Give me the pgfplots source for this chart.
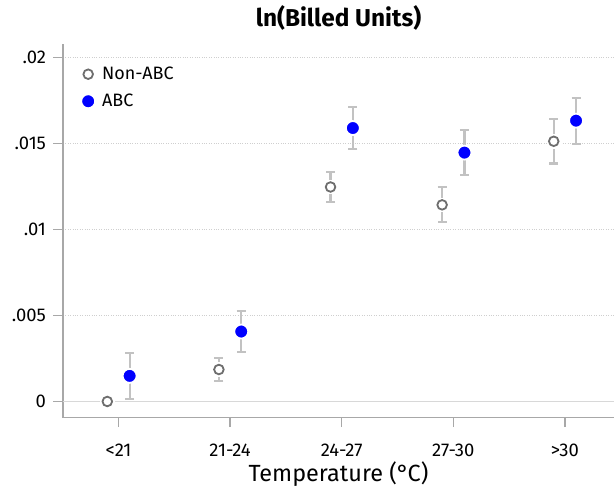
\documentclass[border=0pt]{standalone}
\usepackage{fontspec}
\setmainfont{Fira Sans}
\usepackage{pgfplots}
\pgfplotsset{compat=1.18}
\definecolor{nonabc}{HTML}{6E6E6E}
\definecolor{ebar}{HTML}{C2C2C2}
\definecolor{axgray}{HTML}{A8A8A8}
\definecolor{gridc}{HTML}{CFCFCF}
\pgfplotstableread{
x y e
-0.1 0.00000 0.00001
0.9 0.00186 0.00067
1.9 0.01248 0.00088
2.9 0.01144 0.00102
3.9 0.01514 0.00129
}\nonabc
\pgfplotstableread{
x y e
0.1 0.00149 0.00134
1.1 0.00407 0.00118
2.1 0.01591 0.00122
3.1 0.01448 0.00132
4.1 0.01634 0.00134
}\abc
\begin{document}
\begin{tikzpicture}
\begin{axis}[
  scale only axis,
  width=551bp, height=373.7bp,
  xmin=-0.497, xmax=4.44,
  ymin=-0.000944, ymax=0.02080,
  axis lines*=left,
  axis line style={axgray, line width=1.3bp},
  every tick/.style={axgray, line width=1.3bp},
  tick align=outside,
  major tick length=9.5bp,
  xtick={0,1,2,3,4},
  xticklabels={<21,21-24,24-27,27-30,>30},
  ytick={0,0.005,0.01,0.015,0.02},
  yticklabels={0,.005,.01,.015,.02},
  scaled y ticks=false,
  ymajorgrids,
  grid style={gridc, dotted, line width=1bp},
  tick label style={font=\fontsize{18.5}{20}\selectfont},
  xticklabel style={anchor=center, yshift=-23bp},
  yticklabel style={anchor=east, xshift=-4bp},
  xlabel={Temperature (°\kern-1.5pt C)},
  xlabel style={at={(axis description cs:0.5,0)}, anchor=center, yshift=-56bp, font=\fontsize{23.5}{26}\selectfont},
  legend style={at={(axis description cs:0,1)}, anchor=north west, xshift=15bp, yshift=-19bp, draw=none, fill=none, font=\fontsize{18}{20}\selectfont, row sep=9bp, column sep=5bp},
  legend cell align=left,
  clip=false,
]
\coordinate (ll) at (rel axis cs:0,0);
\coordinate (ur) at (rel axis cs:1,1);
\coordinate (tt) at (rel axis cs:0.5,1);
\draw[gridc!80, line width=1.2bp] (axis cs:-0.497,0) -- (axis cs:4.44,0);
\addplot[draw=none, mark=none, forget plot,
  error bars/.cd, y dir=both, y explicit, error mark=-,
  error bar style={draw=ebar, line width=2.2bp},
  error mark options={rotate=90, draw=ebar, line width=2.2bp, mark size=4.5bp}]
  table[x=x, y=y, y error=e] {\nonabc};
\addplot[draw=none, mark=none, forget plot,
  error bars/.cd, y dir=both, y explicit, error mark=-,
  error bar style={draw=ebar, line width=2.2bp},
  error mark options={rotate=90, draw=ebar, line width=2.2bp, mark size=4.5bp}]
  table[x=x, y=y, y error=e] {\abc};
\addplot[white, only marks, mark=*, mark size=6.8bp, forget plot,
  mark options={draw=white, fill=white, line width=0pt}]
  table[x=x, y=y] {\nonabc};
\addplot[only marks, mark=*, mark size=4.8bp,
  mark options={draw=nonabc, fill=white, line width=1.8bp}]
  table[x=x, y=y] {\nonabc};
\addlegendentry{Non-ABC}
\addplot[only marks, mark=*, mark size=7bp,
  mark options={draw=white, fill=blue, line width=1.8bp}]
  table[x=x, y=y] {\abc};
\addlegendentry{ABC}
\end{axis}
\node[font=\bfseries\fontsize{24.5}{28}\selectfont] at ([yshift=26bp]tt) {ln(Billed Units)};
\pgfresetboundingbox
\path ([xshift=-63bp,yshift=-73.3bp]ll) rectangle ([yshift=44bp]ur);
\end{tikzpicture}
\end{document}
